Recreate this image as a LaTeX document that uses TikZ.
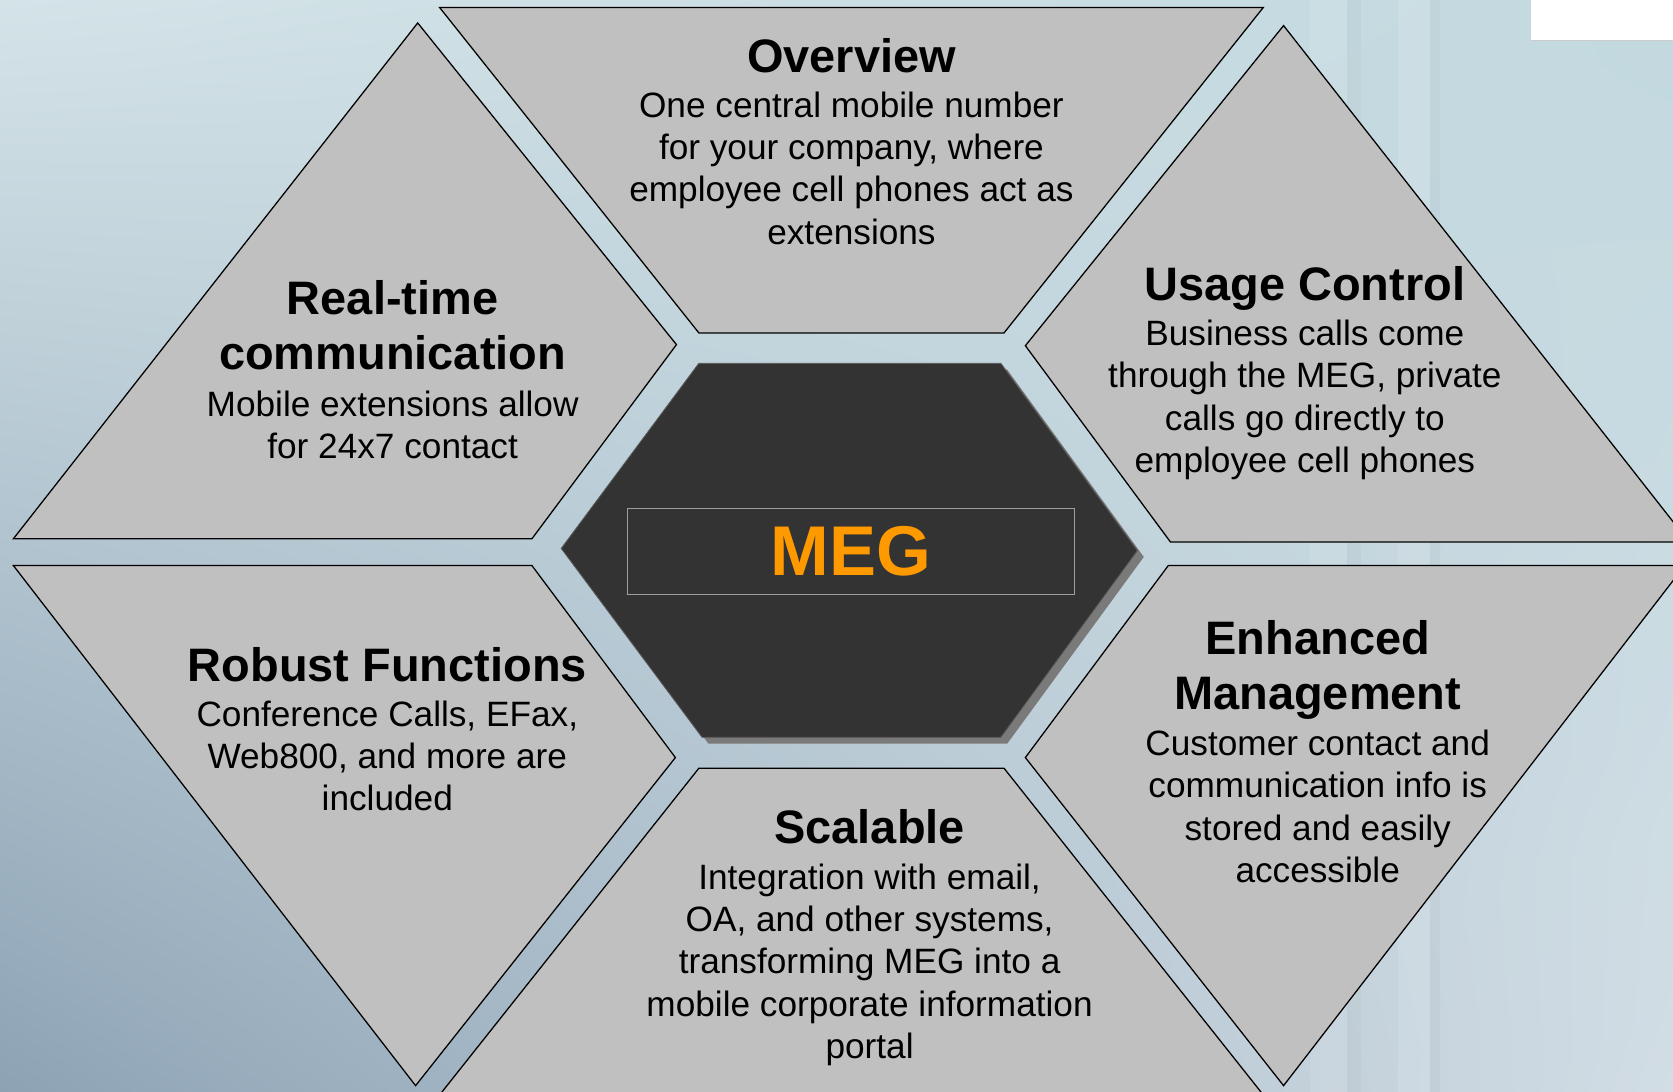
\documentclass[tikz,border=0pt]{standalone}
\usepackage{fontspec}
\setmainfont{Liberation Sans}
\usetikzlibrary{shadings}
\definecolor{bgUL}{HTML}{D4E3E8}
\definecolor{bgUR}{HTML}{C2D9DF}
\definecolor{bgLL}{HTML}{8DA3B5}
\definecolor{bgLR}{HTML}{D2DDE5}
\definecolor{segfill}{HTML}{C0C0C0}
\definecolor{hexfill}{HTML}{333333}
\definecolor{hexshadow}{HTML}{7A7A7A}
\definecolor{megorange}{HTML}{FF9900}
\begin{document}
\begin{tikzpicture}[x=1pt,y=-1pt,
  seg/.style={fill=segfill,draw=black,line width=1.2pt,line join=miter},
  ttl/.style={font=\fontsize{44}{52}\selectfont\bfseries,align=center,anchor=base,inner sep=0pt},
  bdy/.style={font=\fontsize{33}{39.7}\selectfont,align=center,anchor=base,inner sep=0pt}]
\useasboundingbox (0,0) rectangle (1568,1023);
\clip (0,0) rectangle (1568,1023);
% background
\shade[upper left=bgUL,upper right=bgUR,lower left=bgLL,lower right=bgLR] (0,0) rectangle (1568,1023);
\fill[white,opacity=0.10] (1228,0) rectangle (1262,1023);
\fill[black,opacity=0.025] (1262,0) rectangle (1276,1023);
\fill[white,opacity=0.12] (1310,0) rectangle (1340,1023);
\fill[black,opacity=0.025] (1340,0) rectangle (1350,1023);
% top-right white patch
\fill[white] (1435,0) rectangle (1568,37.5);
\draw[gray!40,line width=0.8pt] (1435,37.5) -- (1568,37.5);
% outer segments
\draw[seg] (412,7) -- (1184,7) -- (941,312) -- (655,312) -- cycle;
\draw[seg] (391.5,21.5) -- (634,323) -- (498.5,505) -- (12.5,505) -- cycle;
\draw[seg] (1203,24) -- (1583,508) -- (1097,508) -- (961,324) -- cycle;
\draw[seg] (12.5,530) -- (498.5,530) -- (633,710) -- (389.5,1017.5) -- cycle;
\draw[seg] (655,720) -- (941,720) -- (1187,1030) -- (409,1030) -- cycle;
\draw[seg] (1095,530) -- (1579,530) -- (1203,1017.5) -- (961,710) -- cycle;
% central hexagon
\fill[hexshadow] (661,346.5) -- (944,346.5) -- (1072,522) -- (944,697) -- (664,697) -- (532,520) -- cycle;
\draw[fill=hexfill,draw=gray!70!black,line width=0.8pt] (655,340.5) -- (938,340.5) -- (1066,516) -- (938,691) -- (658,691) -- (526,514) -- cycle;
\draw[gray!75,line width=1.3pt] (588,476.5) rectangle (1007,557);
\node[font=\fontsize{66}{78}\selectfont\bfseries,text=megorange,inner sep=0pt] (meg) at (797.5,517) {MEG};
% texts (base anchor = baseline of last line)
\node[ttl] (t1) at (798,68) {Overview};
\node[bdy] (b1) at (798,229) {One central mobile number\\for your company, where\\employee cell phones act as\\extensions};
\node[ttl] (t2) at (368,346.5) {Real-time\\communication};
\node[bdy] (b2) at (368,430) {Mobile extensions allow\\for 24x7 contact};
\node[ttl] (t3) at (1223,282) {Usage Control};
\node[bdy] (b3) at (1223,443) {Business calls come\\through the MEG, private\\calls go directly to\\employee cell phones};
\node[ttl] (t4) at (363,639) {Robust Functions};
\node[bdy] (b4) at (363,760) {Conference Calls, EFax,\\Web800, and more are\\included};
\node[ttl] (t5) at (815,791) {Scalable};
\node[bdy] (b5) at (815,992) {Integration with email,\\OA, and other systems,\\transforming MEG into a\\mobile corporate information\\portal};
\node[ttl] (t6) at (1235,665) {Enhanced\\Management};
\node[bdy] (b6) at (1235,827) {Customer contact and\\communication info is\\stored and easily\\accessible};
\end{tikzpicture}
\end{document}
